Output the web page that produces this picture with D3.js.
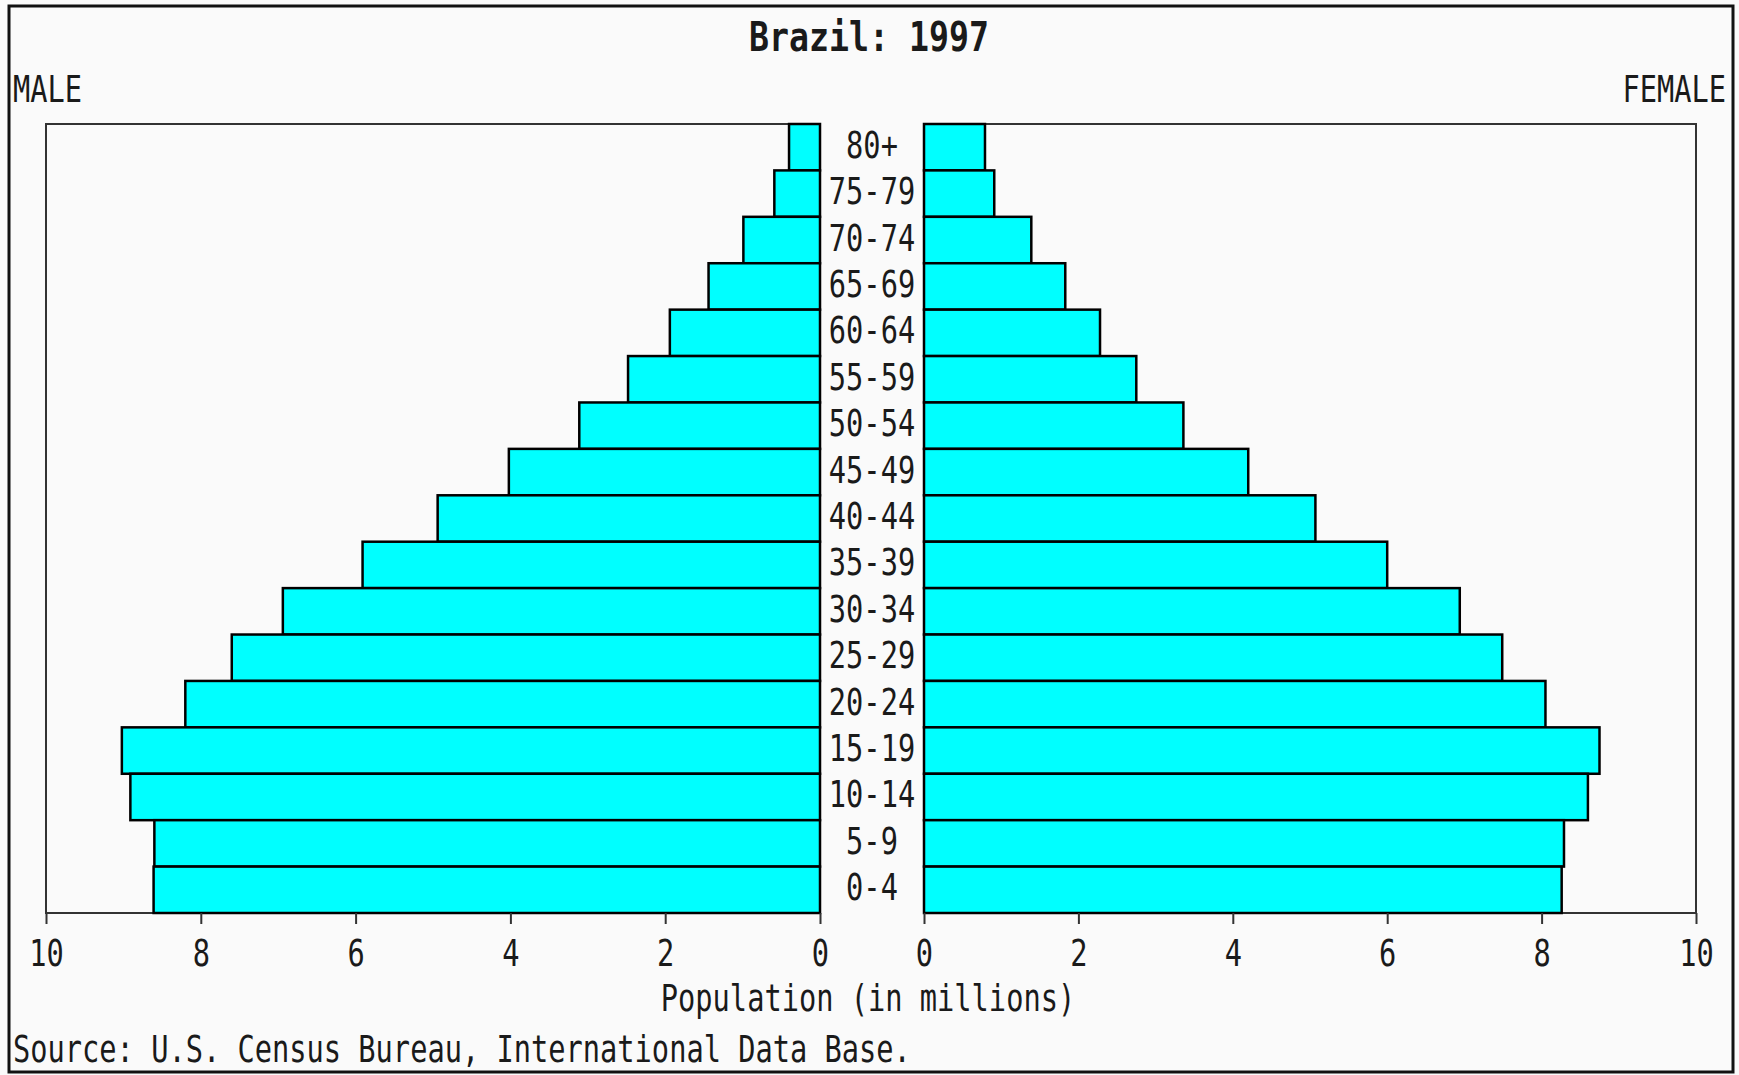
<!DOCTYPE html>
<html>
<head>
<meta charset="utf-8">
<script src="https://cdn.jsdelivr.net/npm/d3@7"></script>
<style>
  body { margin: 0; background: #fafafa; }
  svg { display: block; }
  text { font-family: "DejaVu Sans Mono", monospace; fill: #1a1a1a; }
</style>
</head>
<body>
<div id="chart"></div>
<script>
// age groups, top of the pyramid first
const ages = ["80+", "75-79", "70-74", "65-69", "60-64", "55-59", "50-54", "45-49",
              "40-44", "35-39", "30-34", "25-29", "20-24", "15-19", "10-14", "5-9", "0-4"];
// millions
const male = [0.40, 0.59, 0.99, 1.44, 1.94, 2.48, 3.11, 4.02,
              4.94, 5.91, 6.94, 7.60, 8.20, 9.02, 8.91, 8.60, 8.61];
const female = [0.79, 0.91, 1.39, 1.83, 2.28, 2.75, 3.36, 4.20,
                5.07, 6.00, 6.94, 7.49, 8.05, 8.75, 8.60, 8.29, 8.26];
const tickVals = [0, 2, 4, 6, 8, 10];

const width = 1739,
      height = 1075;
const plotTop = 124, plotBottom = 913;
const sx = 0.755; // squeeze the mono font to the narrow look of the original

const svg = d3.select("#chart").append("svg")
    .attr("width", width)
    .attr("height", height);

// outer frame
svg.append("rect")
    .attr("x", 9).attr("y", 6)
    .attr("width", 1724).attr("height", 1066)
    .attr("fill", "#fafafa")
    .attr("stroke", "#111")
    .attr("stroke-width", 3);

const xLeft = d3.scaleLinear().domain([0, 10]).range([820, 46]);
const xRight = d3.scaleLinear().domain([0, 10]).range([924, 1696]);
const y = d3.scaleBand().domain(ages).range([plotTop, plotBottom]).padding(0);

function label(x, yy, str, anchor, opts) {
  opts = opts || {};
  return svg.append("text")
    .attr("transform", "translate(" + x + "," + yy + ") scale(" + (opts.sx || sx) + ",1)")
    .attr("text-anchor", anchor)
    .attr("font-size", opts.size || 38)
    .attr("font-weight", opts.bold ? "bold" : null)
    .text(str);
}

label(869, 51, "Brazil: 1997", "middle", {bold: true, size: 41, sx: 0.81});
label(13, 102, "MALE", "start");
label(1726, 102, "FEMALE", "end");

// plot boxes
[xLeft, xRight].forEach(function(sc) {
  const r = sc.range();
  svg.append("rect")
    .attr("x", Math.min(r[0], r[1]))
    .attr("y", plotTop)
    .attr("width", Math.abs(r[1] - r[0]))
    .attr("height", plotBottom - plotTop)
    .attr("fill", "none")
    .attr("stroke", "#333")
    .attr("stroke-width", 2);
});

svg.append("g").selectAll("rect")
  .data(male)
  .join("rect")
    .attr("x", d => xLeft(d))
    .attr("y", (d, i) => y(ages[i]))
    .attr("width", d => xLeft(0) - xLeft(d))
    .attr("height", y.bandwidth())
    .attr("fill", "#00ffff")
    .attr("stroke", "#000")
    .attr("stroke-width", 2.5);

svg.append("g").selectAll("rect")
  .data(female)
  .join("rect")
    .attr("x", xRight(0))
    .attr("y", (d, i) => y(ages[i]))
    .attr("width", d => xRight(d) - xRight(0))
    .attr("height", y.bandwidth())
    .attr("fill", "#00ffff")
    .attr("stroke", "#000")
    .attr("stroke-width", 2.5);

// age labels in the gap
ages.forEach(function(a) {
  label(872, y(a) + y.bandwidth() / 2 + 10.5, a, "middle");
});

// bottom axes
[xLeft, xRight].forEach(function(sc) {
  const g = svg.append("g")
    .attr("transform", "translate(0," + plotBottom + ")")
    .call(d3.axisBottom(sc).tickValues(tickVals).tickSize(11).tickFormat(d3.format("d")));
  g.select(".domain").remove();
  g.selectAll(".tick line").attr("stroke", "#333").attr("stroke-width", 2);
  g.selectAll(".tick text")
    .attr("y", 53).attr("dy", null)
    .attr("transform", "scale(" + sx + ",1)")
    .attr("font-size", 38)
    .attr("font-family", "DejaVu Sans Mono")
    .attr("fill", "#1a1a1a");
});

label(868, 1011, "Population (in millions)", "middle");
label(13, 1062, "Source: U.S. Census Bureau, International Data Base.", "start");
</script>
</body>
</html>
